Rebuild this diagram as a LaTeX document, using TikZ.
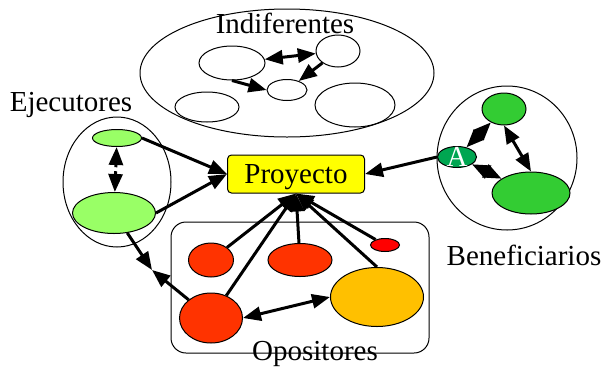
\documentclass[tikz,border=0pt]{standalone}
\usepackage{fontspec}
\setmainfont{Liberation Serif}
\usepackage{tikz}
\usetikzlibrary{shapes.geometric, arrows.meta}
\definecolor{ejgreen}{HTML}{99FF66}
\definecolor{bengreen}{HTML}{33CC33}
\definecolor{agreen}{HTML}{00A651}
\definecolor{opred}{HTML}{FF3300}
\definecolor{oporange}{HTML}{FFC000}
\definecolor{proyellow}{HTML}{FFFF00}
\tikzstyle{group} = [ellipse, draw=black, line width=0.5pt, inner sep=0pt]
\tikzstyle{actor} = [ellipse, draw=black, line width=0.5pt, inner sep=0pt]
\tikzstyle{opgroup} = [rectangle, rounded corners=7.5pt, draw=black, line width=0.5pt, inner sep=0pt]
\tikzstyle{project} = [rectangle, rounded corners=2pt, draw=black, line width=0.5pt, fill=proyellow, minimum width=68.5pt, minimum height=19pt, inner sep=2pt, text depth=0pt]
\tikzstyle{grouplabel} = [anchor=base, inner sep=0pt]
\tikzstyle{arrow} = [line width=1.5pt, ->]
\tikzstyle{dblarrow} = [line width=1.5pt, <->]

\begin{document}
\begin{tikzpicture}[x=0.5pt, y=-0.5pt, >={Triangle[length=9pt,width=7pt]}, font=\fontsize{14.5}{17}\selectfont]
\useasboundingbox (0,0) rectangle (604,370);
%Indiferentes
\node (indif) [group, minimum width=147pt, minimum height=64pt] at (287,73) {};
\node (indiflbl) [grouplabel] at (285,33) {Indiferentes};
\node (in1) [actor, minimum width=33pt, minimum height=17pt] at (232,63) {};
\node (in2) [actor, minimum width=22pt, minimum height=16pt] at (338,51) {};
\node (in3) [actor, minimum width=20pt, minimum height=10.5pt] at (287,90) {};
\node (in4) [actor, minimum width=32pt, minimum height=15pt] at (207,107) {};
\node (in5) [actor, minimum width=40pt, minimum height=22pt] at (355,105) {};

%Ejecutores
\node (ejec) [group, minimum width=54pt, minimum height=65pt] at (117,182) {};
\node (ejeclbl) [grouplabel] at (71,111) {Ejecutores};
\node (ej1) [actor, fill=ejgreen, minimum width=24.5pt, minimum height=8.5pt] at (117,138) {};
\node (ej2) [actor, fill=ejgreen, minimum width=41.5pt, minimum height=20.5pt] at (114,213) {};

%Proyecto
\node (proy) [project] at (296,174) {Proyecto};

%Beneficiarios
\node (benef) [group, minimum width=70pt, minimum height=72pt] at (507,158) {};
\node (beneflbl) [grouplabel] at (524,265) {Beneficiarios};
\node (be1) [actor, fill=bengreen, minimum width=22pt, minimum height=16pt] at (504,109) {};
\node (be2) [actor, fill=bengreen, minimum width=39pt, minimum height=21pt] at (531,193) {};
\node (beA) [actor, fill=agreen, minimum width=19.5pt, minimum height=10.5pt, label={[text=white, inner sep=0pt]center:A}] at (457,157) {};

%Opositores
\node (opos) [opgroup, minimum width=129pt, minimum height=65.5pt] at (300,287.5) {};
\node (oposlbl) [grouplabel] at (315,360) {Opositores};
\node (op1) [actor, fill=opred, minimum width=22.5pt, minimum height=17pt] at (211,260) {};
\node (op2) [actor, fill=opred, minimum width=32pt, minimum height=16.5pt] at (300,260) {};
\node (op3) [actor, fill=red, minimum width=14.5pt, minimum height=6.5pt] at (385,245) {};
\node (op4) [actor, fill=opred, minimum width=31.5pt, minimum height=25pt] at (211,318) {};
\node (op5) [actor, fill=oporange, minimum width=46.5pt, minimum height=29.5pt] at (377,297) {};
\coordinate (choque) at (152,270);

%Flechas
\draw [dblarrow](in1) -- (in2);
\draw [arrow](in2) -- (in3);
\draw [arrow](in1.south) -- (in3.west);
\draw [dblarrow, dotted](ej1) -- (ej2);
\draw [arrow](ej1.east) -- (proy.west);
\draw [arrow](ej2.east) -- (proy.west);
\draw [arrow](ej2) -- (choque);
\draw [arrow](op4) -- (choque);
\draw [arrow](beA.west) -- (proy.east);
\draw [dblarrow](beA) -- (be1);
\draw [dblarrow](beA) -- (be2);
\draw [dblarrow](be1.south) -- (be2.north);
\draw [arrow](op1) -- (proy.south);
\draw [arrow](op4) -- (proy.south);
\draw [arrow](op2) -- (proy.south);
\draw [arrow](op3) -- (proy.south);
\draw [arrow](op5.north) -- (proy.south);
\draw [dblarrow](op4.east) -- (op5.west);
\end{tikzpicture}
\end{document}
